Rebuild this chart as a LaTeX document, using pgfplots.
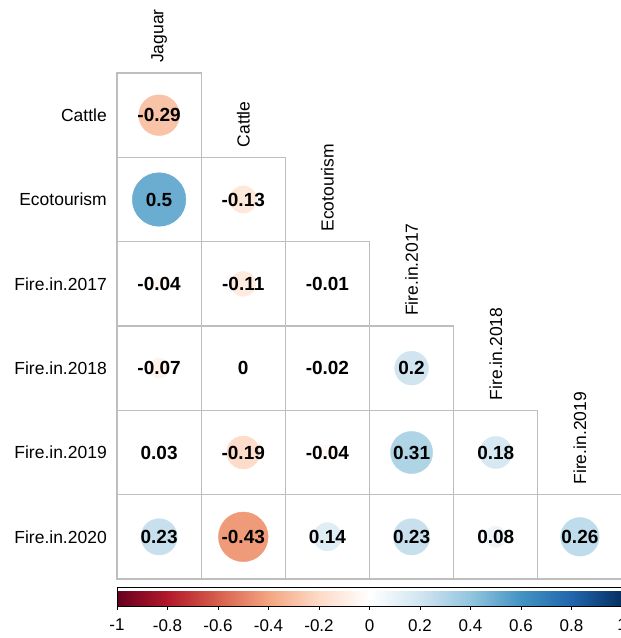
\documentclass[border=0pt]{standalone}
\usepackage{pgfplots}
\pgfplotsset{compat=1.18}
\usepackage{pgfplotstable}
\usepackage{fontspec}
\setmainfont{Liberation Sans}

\pgfplotstableread{
x y r lab
0.5 5.5 -0.29 -0.29
0.5 4.5 0.5 0.5
1.5 4.5 -0.13 -0.13
0.5 3.5 -0.04 -0.04
1.5 3.5 -0.11 -0.11
2.5 3.5 -0.01 -0.01
0.5 2.5 -0.07 -0.07
1.5 2.5 0 0
2.5 2.5 -0.02 -0.02
3.5 2.5 0.2 0.2
0.5 1.5 0.03 0.03
1.5 1.5 -0.19 -0.19
2.5 1.5 -0.04 -0.04
3.5 1.5 0.31 0.31
4.5 1.5 0.18 0.18
0.5 0.5 0.23 0.23
1.5 0.5 -0.43 -0.43
2.5 0.5 0.14 0.14
3.5 0.5 0.23 0.23
4.5 0.5 0.08 0.08
5.5 0.5 0.26 0.26
}\corrdata

\definecolor{gridgray}{RGB}{190,190,190}

\begin{document}
\begin{tikzpicture}
\useasboundingbox (-117pt,-59pt) rectangle (504pt,579pt);
\begin{axis}[
  at={(0,0)}, anchor=south west,
  scale only axis, width=505pt, height=506pt,
  xmin=0, xmax=6, ymin=0, ymax=6,
  hide axis, clip=false,
  colormap={rdbu}{rgb255=(103,0,31) rgb255=(178,24,43) rgb255=(214,96,77) rgb255=(244,165,130) rgb255=(253,219,199) rgb255=(255,255,255) rgb255=(209,229,240) rgb255=(146,197,222) rgb255=(67,147,195) rgb255=(33,102,172) rgb255=(5,48,97)},
  point meta min=-1, point meta max=1,
  colorbar horizontal,
  colorbar style={
    at={(0,-0.0158)}, anchor=north west,
    scale only axis, width=505pt, height=19pt,
    xtick={-1,-0.8,-0.6,-0.4,-0.2,0,0.2,0.4,0.6,0.8,1},
    xticklabels={-1,-0.8,-0.6,-0.4,-0.2,0,0.2,0.4,0.6,0.8,1},
    xtick align=outside, major tick length=4pt,
    xtick pos=left,
    xticklabel style={font=\fontsize{17}{20}\selectfont, inner sep=0pt, yshift=-9pt},
    axis line style={draw=black, line width=0.5pt},
    tick style={draw=black, line width=0.8pt},
  },
]
% cell grid
\addplot[only marks, mark=square, mark size=42.08pt,
  mark options={draw=gridgray, line width=1.3pt, fill=none}]
  table[x=x, y=y] {\corrdata};
% circles
\addplot[scatter, only marks, mark=*,
  scatter/use mapped color={draw=mapped color, fill=mapped color},
  point meta=\thisrow{r},
  visualization depends on={37.88*sqrt(abs(\thisrow{r})) \as \rad},
  scatter/@pre marker code/.append style={/tikz/mark size=\rad}]
  table[x=x, y=y] {\corrdata};
% value labels
\addplot[only marks, mark=none,
  nodes near coords, point meta=explicit symbolic,
  nodes near coords align={center},
  every node near coord/.append style={font=\fontsize{19}{22}\selectfont\bfseries, anchor=center, inner sep=0pt, text=black}]
  table[x=x, y=y, meta=lab] {\corrdata};
% row labels
\foreach \yy/\nm in {5.5/Cattle,4.5/Ecotourism,3.5/Fire.in.2017,2.5/Fire.in.2018,1.5/Fire.in.2019,0.5/Fire.in.2020}{
  \edef\tmp{\noexpand\node[anchor=east, inner sep=0pt, font=\noexpand\fontsize{17.5}{21}\noexpand\selectfont] at ([xshift=-10pt]axis cs:0,\yy) {\nm};}
  \tmp
}
% column labels
\foreach \xx/\yy/\nm in {0.5/6/Jaguar,1.5/5/Cattle,2.5/4/Ecotourism,3.5/3/Fire.in.2017,4.5/2/Fire.in.2018,5.5/1/Fire.in.2019}{
  \edef\tmp{\noexpand\node[rotate=90, anchor=west, inner sep=0pt, font=\noexpand\fontsize{17.5}{21}\noexpand\selectfont] at ([yshift=10pt]axis cs:\xx,\yy) {\nm};}
  \tmp
}
\end{axis}
\end{tikzpicture}
\end{document}
